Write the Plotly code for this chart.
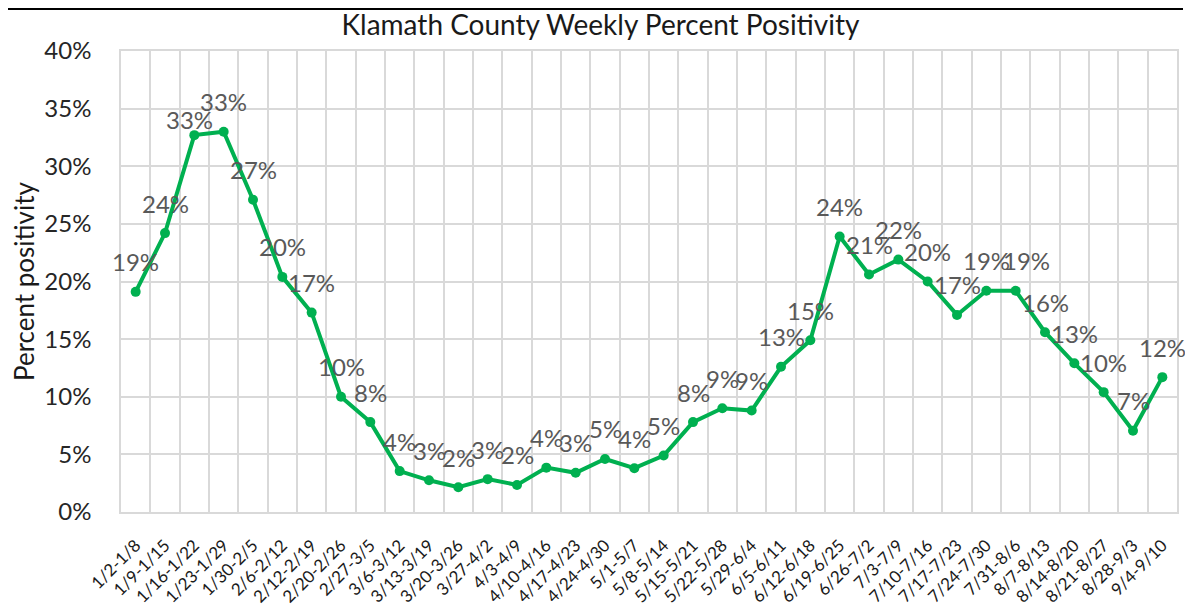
import plotly.graph_objects as go

weeks = ["1/2-1/8", "1/9-1/15", "1/16-1/22", "1/23-1/29", "1/30-2/5", "2/6-2/12",
         "2/12-2/19", "2/20-2/26", "2/27-3/5", "3/6-3/12", "3/13-3/19", "3/20-3/26",
         "3/27-4/2", "4/3-4/9", "4/10-4/16", "4/17-4/23", "4/24-4/30", "5/1-5/7",
         "5/8-5/14", "5/15-5/21", "5/22-5/28", "5/29-6/4", "6/5-6/11", "6/12-6/18",
         "6/19-6/25", "6/26-7/2", "7/3-7/9", "7/10-7/16", "7/17-7/23", "7/24-7/30",
         "7/31-8/6", "8/7-8/13", "8/14-8/20", "8/21-8/27", "8/28-9/3", "9/4-9/10"]

positivity = [19.1, 24.2, 32.7, 33.0, 27.1, 20.4,
              17.3, 10.0, 7.8, 3.55, 2.75, 2.15,
              2.85, 2.35, 3.85, 3.4, 4.6, 3.8,
              4.9, 7.8, 9.0, 8.8, 12.6, 14.9,
              23.9, 20.6, 21.9, 20.0, 17.1, 19.2,
              19.2, 15.6, 12.9, 10.4, 7.05, 11.7]

y_ticks = [0, 5, 10, 15, 20, 25, 30, 35, 40]
y_tick_text = [f"{t}%" for t in y_ticks]

labels = [f"{int(v + 0.5)}%" for v in positivity]

# small per-label nudges (pixels) seen in the reference
label_nudge = {2: (-5, -14), 30: (11, 0)}

GREEN = "#00B050"
FONT = "Lato, Carlito, Calibri, sans-serif"

# the page body adds an 8px margin, so the figure is sized/offset to match
W, H = 1185, 601
L, R, T, B = 113, 16, 43, 97
PW, PH = W - L - R, H - T - B

fig = go.Figure()
fig.add_trace(go.Scatter(
    x=weeks, y=positivity, mode="lines+markers",
    line=dict(color=GREEN, width=4),
    marker=dict(color=GREEN, size=10),
    hoverinfo="x+y", showlegend=False,
))

for i, (w, v, t) in enumerate(zip(weeks, positivity, labels)):
    dx, dy = label_nudge.get(i, (0, 0))
    fig.add_annotation(x=w, y=v, text=t, showarrow=False,
                       xshift=dx, yshift=30 + dy,
                       font=dict(family=FONT, size=24, color="#595959"))

fig.update_layout(
    width=W, height=H,
    margin=dict(l=L, r=R, t=T, b=B, autoexpand=False),
    paper_bgcolor="white", plot_bgcolor="white",
    font=dict(family=FONT, color="#262626"),
    title=dict(text="Klamath County Weekly Percent Positivity",
               x=0.5, xanchor="center", y=1 - 17 / H, yanchor="middle",
               font=dict(family=FONT, size=28, color="#1a1a1a")),
    xaxis=dict(
        type="category", range=[-0.5, len(weeks) - 0.5],
        tickson="boundaries", ticks="", tickangle=-45,
        ticklabelstandoff=15,
        showgrid=True, gridcolor="#d9d9d9", gridwidth=1.5,
        showline=True, linecolor="#d9d9d9", linewidth=1.5, mirror=True,
        tickfont=dict(family=FONT, size=17, color="#1a1a1a"),
        automargin=False,
    ),
    yaxis=dict(
        range=[0, 40], tickmode="array", tickvals=y_ticks, ticktext=y_tick_text,
        showgrid=True, gridcolor="#d9d9d9", gridwidth=1.5,
        showline=True, linecolor="#d9d9d9", linewidth=1.5, mirror=True,
        zeroline=False, ticks="",
        ticklabelstandoff=23,
        tickfont=dict(family=FONT, size=24, color="#262626"),
        title=dict(text="Percent positivity", standoff=9,
                   font=dict(family=FONT, size=26, color="#1a1a1a")),
        automargin=False,
    ),
)

# black frame line across the top of the picture
fig.add_shape(type="line", xref="paper", yref="paper",
              x0=-L / PW, x1=(1175 - L) / PW, y0=1 + (T - 1) / PH, y1=1 + (T - 1) / PH,
              line=dict(color="black", width=2))

fig.write_html("out.html")
